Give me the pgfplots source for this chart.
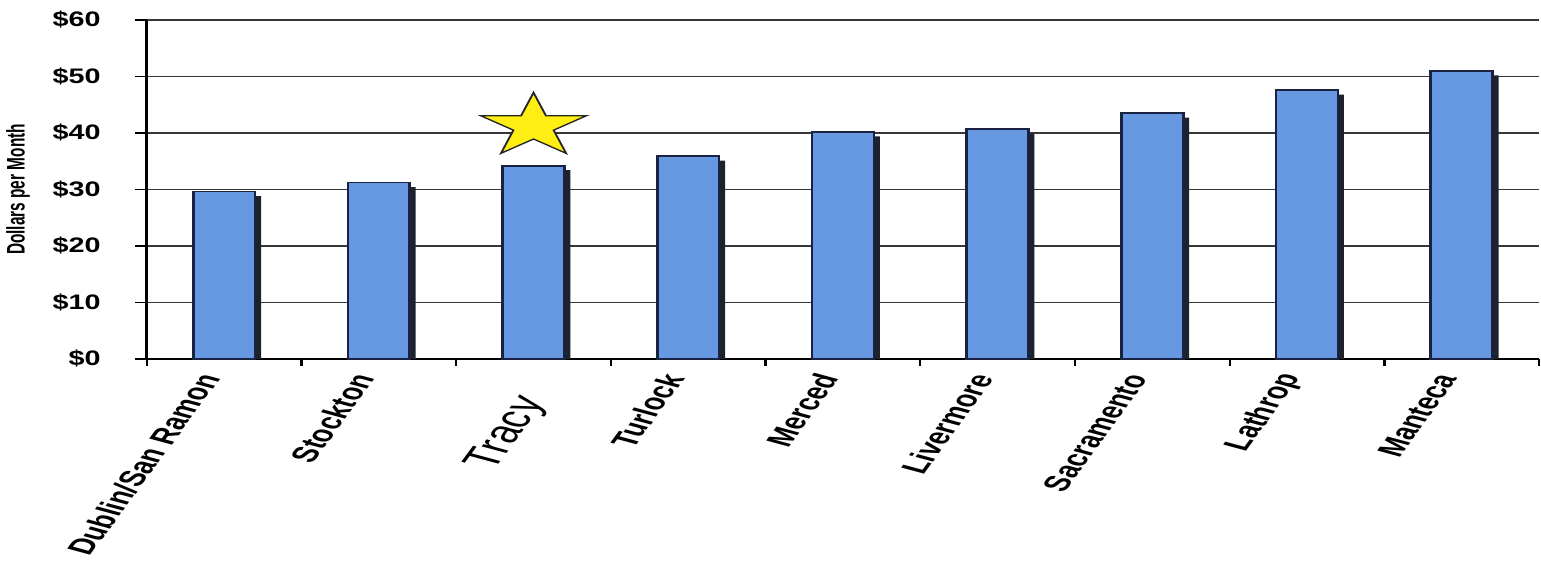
\documentclass[border=0pt]{standalone}
\usepackage{graphicx}
\usepackage{pgfplots}
\pgfplotsset{compat=1.18}
\usepackage{fontspec}
\setmainfont{Liberation Sans}
\newfontfamily\narrowsans[FakeStretch=0.83]{Liberation Sans}

\definecolor{barblue}{RGB}{102,153,226}
\definecolor{baredge}{RGB}{25,35,65}
\definecolor{barshadow}{RGB}{30,34,45}
\definecolor{staryellow}{RGB}{255,238,20}
\definecolor{gridgray}{RGB}{55,55,55}

% filled five-pointed star mark
\def\starpt#1#2{\pgfpoint{#2*cos(#1)*\pgfplotmarksize}{#2*sin(#1)*\pgfplotmarksize}}
\pgfdeclareplotmark{fivestar}{%
  \pgfpathmoveto{\starpt{90}{1}}%
  \pgfpathlineto{\starpt{126}{0.382}}%
  \pgfpathlineto{\starpt{162}{1}}%
  \pgfpathlineto{\starpt{198}{0.382}}%
  \pgfpathlineto{\starpt{234}{1}}%
  \pgfpathlineto{\starpt{270}{0.382}}%
  \pgfpathlineto{\starpt{306}{1}}%
  \pgfpathlineto{\starpt{342}{0.382}}%
  \pgfpathlineto{\starpt{18}{1}}%
  \pgfpathlineto{\starpt{54}{0.382}}%
  \pgfpathclose
  \pgfusepathqfillstroke
}

\begin{document}
% the scan is stretched sideways, so the whole picture is too
\scalebox{1.65}[1]{%
\begin{tikzpicture}
\begin{axis}[
  scale only axis,
  width=422pt, height=169.5pt,
  xmin=-0.5, xmax=8.5,
  ymin=0, ymax=60,
  axis x line=bottom, axis y line=left,
  axis line style={-, black, line width=0.9pt},
  tick align=outside,
  major tick length=3.5pt,
  tick style={black, line width=0.7pt},
  ytick={0,10,...,60},
  yticklabels={\$0,\$10,\$20,\$30,\$40,\$50,\$60},
  yticklabel style={font=\narrowsans\bfseries\fontsize{10.5}{12}\selectfont, xshift=-7pt},
  ymajorgrids=true,
  grid style={gridgray, line width=0.85pt},
  xtick={-0.5,0.5,...,8.5},
  xticklabels={},
  extra x ticks={0,1,...,8},
  extra x tick labels={Dublin/San Ramon,Stockton,{\fontsize{15.5}{16}\selectfont\mdseries\raisebox{-8.6pt}[11pt][3pt]{Tracy}\kern9pt},Turlock,Merced,Livermore,Sacramento,Lathrop,Manteca},
  extra x tick style={major tick length=0pt},
  xticklabel style={xshift=-4pt, yshift=-7pt, rotate=66, anchor=east, inner sep=1pt,
    font=\bfseries\fontsize{11}{12}\selectfont},
  ylabel={Dollars per Month},
  ylabel style={font=\bfseries\fontsize{7.7}{8}\selectfont},
  clip=false,
]
% shadow behind each bar
\addplot[ybar, bar width=0.4, bar shift=1.8pt, fill=barshadow, draw=none]
  coordinates {(0,28.8) (1,30.4) (2,33.4) (3,35.1) (4,39.4) (5,39.9) (6,42.7) (7,46.8) (8,50.2)};
\addplot[ybar, bar width=0.4, bar shift=0pt, fill=barblue, draw=baredge, line width=0.8pt]
  coordinates {(0,29.6) (1,31.2) (2,34.2) (3,35.9) (4,40.2) (5,40.7) (6,43.5) (7,47.6) (8,51.0)};
\addplot[only marks, mark=fivestar, mark size=16.8pt,
  mark options={fill=staryellow, draw=black!85, line width=0.6pt}]
  coordinates {(2,41.2)};
\end{axis}
\pgfresetboundingbox
\path[use as bounding box] ([xshift=-44.5pt,yshift=-101pt]current axis.south west)
  rectangle ([xshift=0.6pt,yshift=10pt]current axis.north east);
\end{tikzpicture}%
}
\end{document}
